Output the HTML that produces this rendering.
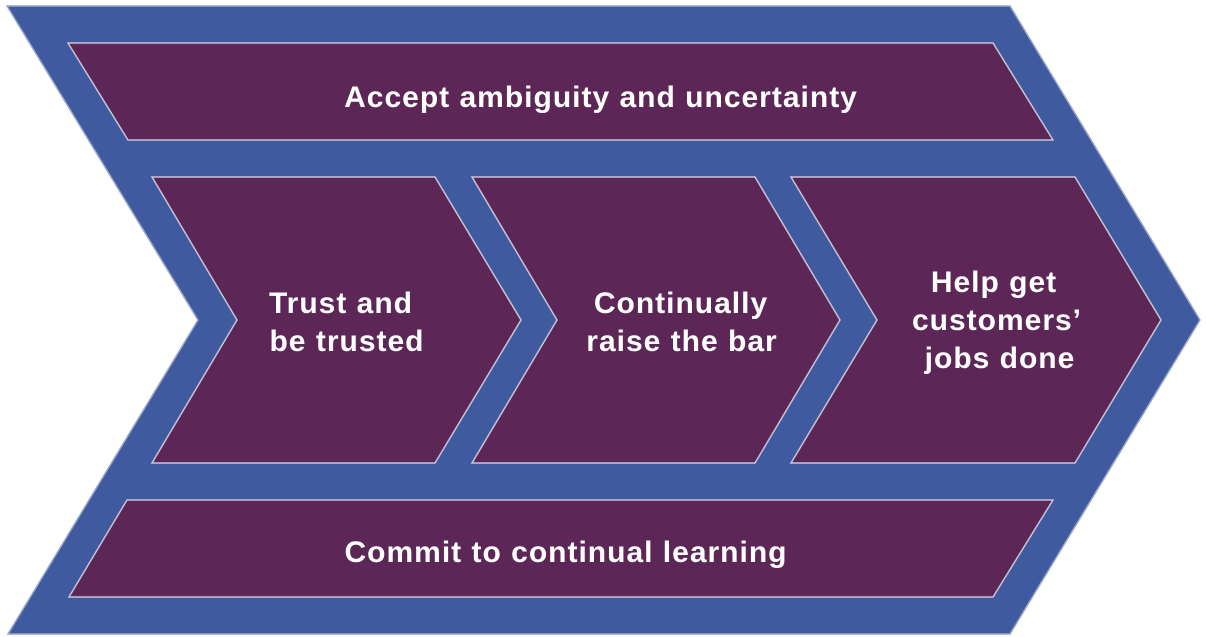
<!DOCTYPE html>
<html><head><meta charset="utf-8"><style>
html,body{margin:0;padding:0;background:#fff;}
svg{display:block}
text{font-family:"Liberation Sans",sans-serif;font-weight:bold;fill:#fff;font-size:30px;text-anchor:middle;letter-spacing:1px}
</style></head><body>
<svg width="1206" height="637" viewBox="0 0 1206 637">
<polygon points="7,6 1010,6 1200,320 1010,634 8,634 198,320" fill="#3f5a9f" stroke="#9aa6c8" stroke-width="1.5"/>
<g fill="#5c2756" stroke="#c9c3d6" stroke-width="1.5">
<polygon points="68,43 993,43 1053,140 128,140"/>
<polygon points="127,500 1053,500 993,597 69,597"/>
<polygon points="152,177 435,177 521,320 435,463 152,463 237,320"/>
<polygon points="472,177 755,177 840,320 755,463 472,463 557,320"/>
<polygon points="791,177 1075,177 1161,320 1075,463 791,463 877,320"/>
</g>
<text x="601" y="107">Accept ambiguity and uncertainty</text>
<text x="566" y="562">Commit to continual learning</text>
<text x="341" y="313">Trust and</text>
<text x="347" y="351">be trusted</text>
<text x="681" y="313">Continually</text>
<text x="682" y="351">raise the bar</text>
<text x="994" y="292">Help get</text>
<text x="997" y="330">customers’</text>
<text x="1000" y="368">jobs done</text>
</svg>
</body></html>
